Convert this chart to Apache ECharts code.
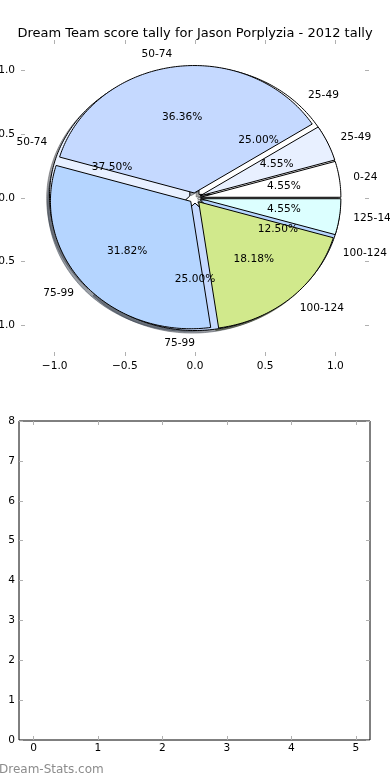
<!DOCTYPE html>
<html><head><meta charset="utf-8">
<script src="https://cdn.jsdelivr.net/npm/echarts@6/dist/echarts.min.js"></script>
<style>html,body{margin:0;padding:0;background:#fff}#c{width:390px;height:780px}</style>
</head><body><div id="c"></div>
<script>
// ---------- data ----------
const chartTitle = 'Dream Team score tally for Jason Porplyzia - 2012 tally';
const outerLabels = ['0-24', '25-49', '50-74', '75-99', '100-124', '125-149'];
const outerCounts = [1, 1, 8, 7, 4, 1];
const innerLabels = ['25-49', '50-74', '75-99', '100-124'];
const innerCounts = [2, 3, 2, 1];
const pieTicks = [-1.0, -0.5, 0.0, 0.5, 1.0];
const barXTicks = [0, 1, 2, 3, 4, 5];
const barYTicks = [0, 1, 2, 3, 4, 5, 6, 7, 8];
const watermark = 'Dream-Stats.com';

// ---------- styles ----------
const sliceColors = ['#ffffff', '#e8f0ff', '#c5d9ff', '#b5d5ff', '#d1e98c', '#dcffff'];
const EXPLODE = 0.04;
const FF = '"DejaVu Sans", sans-serif';
const FS = 10.6;
const TICK_COLOR = '#b0b0b0';

function toSlices(counts) {
  const total = counts.reduce((a, b) => a + b, 0);
  let acc = 0;
  return counts.map(c => {
    const s = acc / total * 360; acc += c; const e = acc / total * 360;
    return [s, e, c / total * 100];
  });
}
const outerData = toSlices(outerCounts);
const innerData = toSlices(innerCounts);

function shade(hex) {
  const r = parseInt(hex.slice(1, 3), 16), g = parseInt(hex.slice(3, 5), 16), b = parseInt(hex.slice(5, 7), 16);
  return 'rgba(' + Math.round(r * 0.3) + ',' + Math.round(g * 0.3) + ',' + Math.round(b * 0.3) + ',0.5)';
}

function wedgeRender(isShadow) {
  return function (params, api) {
    const t1 = api.value(0), t2 = api.value(1);
    const mid = (t1 + t2) / 2 * Math.PI / 180;
    let cx = EXPLODE * Math.cos(mid), cy = EXPLODE * Math.sin(mid);
    if (isShadow) { cx -= 0.02; cy -= 0.02; }
    const pts = [api.coord([cx, cy])];
    const n = Math.max(2, Math.ceil(t2 - t1));
    for (let k = 0; k <= n; k++) {
      const a = (t1 + (t2 - t1) * k / n) * Math.PI / 180;
      pts.push(api.coord([cx + Math.cos(a), cy + Math.sin(a)]));
    }
    const col = sliceColors[params.dataIndex % sliceColors.length];
    return {
      type: 'polygon', shape: { points: pts },
      style: isShadow ? { fill: shade(col), stroke: shade(col), lineWidth: 1 }
                      : { fill: col, stroke: '#000', lineWidth: 1 }
    };
  };
}

function labelRender(labels) {
  return function (params, api) {
    const t1 = api.value(0), t2 = api.value(1), pct = api.value(2);
    const mid = (t1 + t2) / 2 * Math.PI / 180;
    const cx = EXPLODE * Math.cos(mid), cy = EXPLODE * Math.sin(mid);
    const lx = cx + 1.1 * Math.cos(mid), ly = cy + 1.1 * Math.sin(mid);
    const lp = api.coord([lx, ly]);
    const pp = api.coord([cx + 0.6 * Math.cos(mid), cy + 0.6 * Math.sin(mid)]);
    return {
      type: 'group', children: [
        { type: 'text', x: lp[0], y: lp[1], style: { text: labels[params.dataIndex], fill: '#000', font: FS + 'px ' + FF, align: lx > 0 ? 'left' : 'right', verticalAlign: 'middle' } },
        { type: 'text', x: pp[0], y: pp[1], style: { text: pct.toFixed(2) + '%', fill: '#000', font: FS + 'px ' + FF, align: 'center', verticalAlign: 'middle' } }
      ]
    };
  };
}

const fmt1 = v => (v < 0 ? '\u2212' : '') + Math.abs(v).toFixed(1);

function pieAxis(pos, showLabel, margin) {
  return {
    type: 'value', gridIndex: 0, position: pos, min: -1.24, max: 1.24,
    axisLine: { show: false, onZero: false }, splitLine: { show: false },
    axisTick: { show: true, inside: true, length: 4, customValues: pieTicks, lineStyle: { color: TICK_COLOR, width: 1 } },
    axisLabel: { show: showLabel, customValues: pieTicks, formatter: fmt1, margin: margin, color: '#000', fontSize: FS, fontFamily: FF }
  };
}
function barAxis(pos, showLabel, min, max, ticks, margin) {
  return {
    type: 'value', gridIndex: 1, position: pos, min: min, max: max,
    axisLine: { show: false, onZero: false }, splitLine: { show: false },
    axisTick: { show: true, inside: true, length: 4, customValues: ticks, lineStyle: { color: TICK_COLOR, width: 1 } },
    axisLabel: { show: showLabel, customValues: ticks, margin: margin, color: '#000', fontSize: FS, fontFamily: FF, formatter: v => String(v) }
  };
}

const chart = echarts.init(document.getElementById('c'), null, { renderer: 'canvas' });
chart.setOption({
  animation: false,
  backgroundColor: '#fff',
  title: { text: chartTitle, left: 'center', top: 22, textStyle: { fontSize: 13, fontWeight: 'normal', color: '#000', fontFamily: FF } },
  grid: [
    { left: 21, right: 21, top: 40, height: 316, show: false, containLabel: false, outerBoundsMode: 'none' },
    { left: 19, right: 20, top: 421, height: 319, show: true, borderColor: '#000', borderWidth: 1, backgroundColor: 'transparent', containLabel: false, outerBoundsMode: 'none' }
  ],
  xAxis: [
    pieAxis('bottom', true, 5),
    pieAxis('top', false, 5),
    barAxis('bottom', true, -0.225, 5.22, barXTicks, 3),
    barAxis('top', false, -0.225, 5.22, barXTicks, 3)
  ],
  yAxis: [
    pieAxis('left', true, 6),
    pieAxis('right', false, 6),
    barAxis('left', true, 0, 8, barYTicks, 4),
    barAxis('right', false, 0, 8, barYTicks, 4)
  ],
  graphic: [
    { type: 'text', left: -1, top: 764, style: { text: watermark, fill: '#8c8c8c', font: '12px ' + FF } }
  ],
  series: [
    { type: 'custom', xAxisIndex: 0, yAxisIndex: 0, z: 1, data: innerData, renderItem: wedgeRender(true), silent: true },
    { type: 'custom', xAxisIndex: 0, yAxisIndex: 0, z: 1, data: outerData, renderItem: wedgeRender(true), silent: true },
    { type: 'custom', xAxisIndex: 0, yAxisIndex: 0, z: 2, data: innerData, renderItem: wedgeRender(false), silent: true },
    { type: 'custom', xAxisIndex: 0, yAxisIndex: 0, z: 3, data: outerData, renderItem: wedgeRender(false), silent: true },
    { type: 'custom', xAxisIndex: 0, yAxisIndex: 0, z: 4, data: innerData, renderItem: labelRender(innerLabels), silent: true },
    { type: 'custom', xAxisIndex: 0, yAxisIndex: 0, z: 4, data: outerData, renderItem: labelRender(outerLabels), silent: true },
    { type: 'custom', xAxisIndex: 2, yAxisIndex: 2, data: [], renderItem: () => null, silent: true }
  ]
});
</script>
</body></html>
